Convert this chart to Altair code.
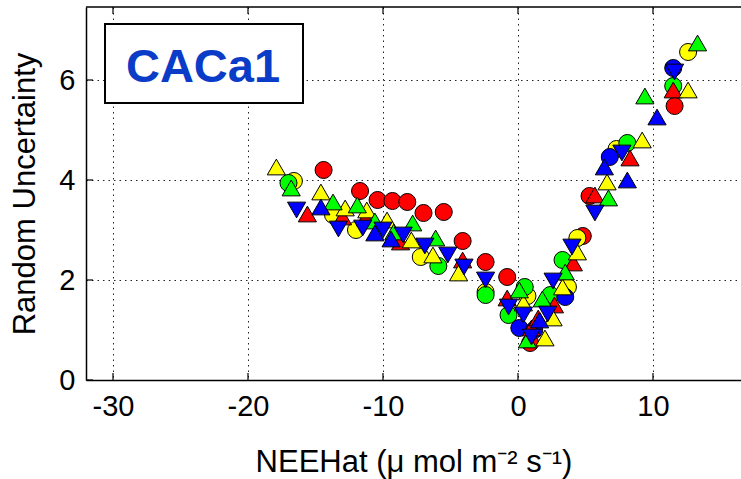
import altair as alt
import pandas as pd

# ---- data ----
rc_x = [-14.4, -11.7, -10.4, -9.3, -8.2, -7.0, -5.5, -4.1, -2.4, -0.8, 0.9, 4.8, 5.3, 11.6]
rc_y = [4.20, 3.78, 3.60, 3.58, 3.56, 3.34, 3.36, 2.78, 2.36, 2.06, 0.74, 2.88, 3.68, 5.48]

yc_x = [-16.6, -13.7, -12.0, -7.2, -2.4, 0.7, 3.7, 4.4, 7.3, 12.6]
yc_y = [3.98, 3.30, 3.00, 2.46, 1.76, 1.68, 1.86, 2.84, 4.62, 6.56]

gc_x = [-17.0, -5.9, -2.4, -0.7, 0.5, 2.4, 3.3, 8.1, 11.5]
gc_y = [3.94, 2.28, 1.70, 1.30, 1.86, 1.70, 2.40, 4.74, 5.88]

bc_x = [0.1, 1.2, 3.5, 6.8, 11.5]
bc_y = [1.04, 1.00, 1.66, 4.46, 6.24]

rt_x = [-15.6, -13.0, -11.3, -8.7, -4.1, -0.8, 1.0, 1.5, 2.7, 4.1, 5.7, 8.3, 11.5]
rt_y = [3.32, 3.26, 3.24, 2.76, 2.40, 1.64, 1.04, 1.24, 1.50, 2.34, 3.70, 4.44, 5.80]

yt_x = [-17.9, -14.6, -12.8, -11.2, -9.7, -7.9, -6.3, -4.4, 0.4, 2.0, 2.6, 3.3, 4.4, 6.6, 9.2, 12.6]
yt_y = [4.26, 3.76, 3.44, 3.40, 3.20, 2.80, 2.50, 2.14, 1.54, 0.84, 1.24, 1.86, 2.56, 3.96, 4.80, 5.80]

gt_x = [-16.8, -13.7, -11.9, -10.6, -9.2, -7.8, -6.1, 0.1, 0.7, 1.8, 3.5, 6.7, 9.4, 13.3]
gt_y = [3.84, 3.56, 3.50, 3.18, 2.96, 3.14, 2.84, 1.80, 0.80, 1.62, 2.16, 3.64, 5.68, 6.74]

bu_x = [-14.6, -10.6, -9.4, 1.6, 6.4, 8.1, 10.3]
bu_y = [3.46, 2.94, 2.82, 1.20, 4.26, 4.00, 5.26]

bd_x = [-16.4, -13.3, -11.5, -10.0, -8.5, -6.9, -5.2, -4.0, -2.4, -0.7, 0.4, 1.0, 2.2, 2.6, 4.0, 5.7, 7.7, 11.6]
bd_y = [3.40, 3.02, 3.04, 3.00, 2.90, 2.68, 2.50, 2.26, 2.00, 1.46, 1.30, 0.86, 1.32, 1.98, 2.66, 3.34, 4.54, 6.16]

x_ticks = [-30, -20, -10, 0, 10]
y_ticks = [0, 2, 4, 6]
site_label = "CACa1"
x_title = "NEEHat (\u03bc mol m\u207b\u00b2 s\u207b\u00b9)"
y_title = "Random Uncertainty"

# ---- styles ----
CIRCLE_SIZE = 290
TRI_SIZE = 330
series = [
    ("rc", rc_x, rc_y, "#ff0000", "circle"),
    ("yc", yc_x, yc_y, "#ffff00", "circle"),
    ("gc", gc_x, gc_y, "#00ff00", "circle"),
    ("bc", bc_x, bc_y, "#0000ff", "circle"),
    ("rt", rt_x, rt_y, "#ff0000", "triangle-up"),
    ("yt", yt_x, yt_y, "#ffff00", "triangle-up"),
    ("gt", gt_x, gt_y, "#00ff00", "triangle-up"),
    ("bu", bu_x, bu_y, "#0000ff", "triangle-up"),
    ("bd", bd_x, bd_y, "#0000ff", "triangle-down"),
]

rows = []
for name, xs, ys, _, shp in series:
    for xv, yv in zip(xs, ys):
        rows.append({"s": name, "x": xv, "y": yv,
                     "sz": CIRCLE_SIZE if shp == "circle" else TRI_SIZE})
df = pd.DataFrame(rows)
df["o"] = range(len(df))

names = [s[0] for s in series]
fills = [s[3] for s in series]
shapes = [s[4] for s in series]

W, H = 655, 373
FONT = "Liberation Sans"

xscale = alt.Scale(domain=[-32, 16.52], nice=False, zero=False)
yscale = alt.Scale(domain=[0, 7.46], nice=False, zero=False)

points = alt.Chart(df).mark_point(filled=True, stroke="black", strokeWidth=1, opacity=1).encode(
    x=alt.X("x:Q", scale=xscale,
            axis=alt.Axis(values=x_ticks, title=x_title, grid=True, gridDash=[1.5, 4],
                          gridColor="#222222", gridWidth=1, ticks=False, labelPadding=12,
                          labelExpr="'' + datum.value",
                          labelFontSize=29, labelColor="black", titleFontSize=31,
                          titleColor="black", titleFontWeight="normal",
                          titleBaseline="alphabetic", titleY=91,
                          domainColor="black", domainWidth=1.5)),
    y=alt.Y("y:Q", scale=yscale,
            axis=alt.Axis(values=y_ticks, title=y_title, grid=True, gridDash=[1.5, 4],
                          gridColor="#222222", gridWidth=1, ticks=False, labelPadding=11,
                          labelExpr="'' + datum.value",
                          labelFontSize=29, labelColor="black", titleFontSize=31,
                          titleColor="black", titleFontWeight="normal",
                          titleAngle=-90, titleX=-45, titleBaseline="bottom",
                          domainColor="black", domainWidth=1.5)),
    color=alt.Color("s:N", scale=alt.Scale(domain=names, range=fills), legend=None),
    shape=alt.Shape("s:N", scale=alt.Scale(domain=names, range=shapes), legend=None),
    size=alt.Size("sz:Q", scale=None, legend=None),
    order=alt.Order("o:Q"),
)

xt = pd.DataFrame({"t": x_ticks})
yt = pd.DataFrame({"t": y_ticks})

xticks_top = alt.Chart(xt).mark_rule(color="black", strokeWidth=1.2).encode(
    x=alt.X("t:Q", scale=xscale), y=alt.value(0), y2=alt.value(7))
xticks_bot = alt.Chart(xt).mark_rule(color="black", strokeWidth=1.2).encode(
    x=alt.X("t:Q", scale=xscale), y=alt.value(H - 7), y2=alt.value(H))
yticks_left = alt.Chart(yt).mark_rule(color="black", strokeWidth=1.2).encode(
    y=alt.Y("t:Q", scale=yscale), x=alt.value(0), x2=alt.value(7))

top_border = alt.Chart(pd.DataFrame({"a": [0]})).mark_rule(color="black", strokeWidth=1.5).encode(
    x=alt.value(0), x2=alt.value(W), y=alt.value(0))

box = alt.Chart(pd.DataFrame({"a": [0]})).mark_rect(
    fill="white", stroke="black", strokeWidth=2).encode(
    x=alt.value(19), x2=alt.value(217), y=alt.value(17), y2=alt.value(96))

label = alt.Chart(pd.DataFrame({"t": [site_label]})).mark_text(
    font=FONT, fontSize=47, fontWeight="bold", color="#0a3cc8",
    align="center", baseline="alphabetic").encode(
    x=alt.value(117), y=alt.value(75), text="t:N")

chart = alt.layer(
    xticks_top, xticks_bot, yticks_left, points, top_border, box, label
).properties(
    width=W, height=H,
    autosize=alt.AutoSizeParams(type="none"),
    padding={"left": 86, "top": 7, "right": 0, "bottom": 99},
).configure(
    font=FONT,
).configure_view(
    stroke=None,
)

chart.save("out.html", embed_options={"renderer": "svg", "actions": False})
